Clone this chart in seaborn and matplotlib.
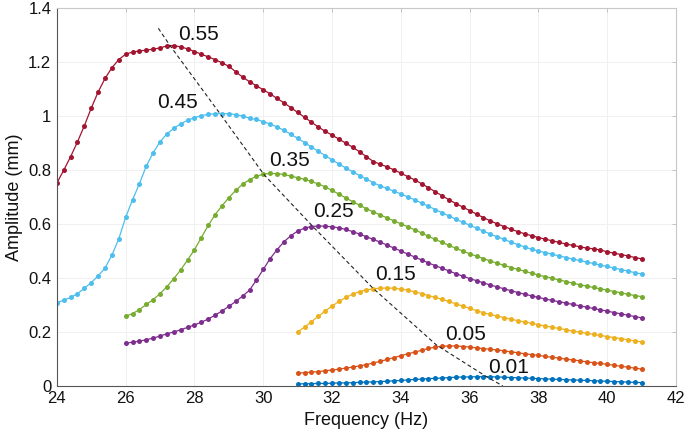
import numpy as np
import pandas as pd
import matplotlib
matplotlib.use('Agg')
import matplotlib.pyplot as plt
import seaborn as sns

# Frequency grids (Hz) - sweep step 0.2 Hz
freq_a = np.round(np.arange(24.0, 41.01, 0.2), 1)   # 0.55, 0.45
freq_b = np.round(np.arange(26.0, 41.01, 0.2), 1)   # 0.35, 0.25
freq_c = np.round(np.arange(31.0, 41.01, 0.2), 1)   # 0.15, 0.05, 0.01

amp_055 = [0.752, 0.80, 0.85, 0.905, 0.965, 1.03, 1.09, 1.14, 1.18, 1.21,
           1.23, 1.238, 1.242, 1.245, 1.249, 1.253, 1.261, 1.262, 1.257, 1.25,
           1.24, 1.23, 1.22, 1.21, 1.198, 1.185, 1.165, 1.145, 1.128, 1.113,
           1.098, 1.083, 1.066, 1.05, 1.032, 1.014, 0.996, 0.978, 0.96, 0.944,
           0.93, 0.915, 0.9, 0.885, 0.868, 0.85, 0.832, 0.822, 0.812, 0.801,
           0.789, 0.776, 0.764, 0.75, 0.735, 0.72, 0.705, 0.69, 0.676, 0.663,
           0.65, 0.637, 0.624, 0.612, 0.601, 0.591, 0.581, 0.572, 0.564, 0.557,
           0.55, 0.544, 0.538, 0.532, 0.526, 0.521, 0.516, 0.511, 0.508, 0.504,
           0.497, 0.492, 0.487, 0.482, 0.476, 0.471]

amp_045 = [0.308, 0.318, 0.328, 0.342, 0.362, 0.383, 0.408, 0.437, 0.485, 0.545,
           0.625, 0.69, 0.75, 0.815, 0.865, 0.905, 0.935, 0.955, 0.972, 0.985,
           0.995, 1.002, 1.007, 1.009, 1.01, 1.009, 1.006, 1.0, 0.993, 0.988,
           0.98, 0.971, 0.96, 0.948, 0.933, 0.918, 0.902, 0.886, 0.87, 0.854,
           0.838, 0.823, 0.808, 0.794, 0.78, 0.767, 0.753, 0.742, 0.732, 0.722,
           0.712, 0.701, 0.69, 0.678, 0.666, 0.654, 0.642, 0.63, 0.618, 0.607,
           0.596, 0.585, 0.574, 0.563, 0.553, 0.543, 0.533, 0.524, 0.515, 0.507,
           0.5, 0.494, 0.488, 0.482, 0.476, 0.47, 0.465, 0.459, 0.454, 0.448,
           0.443, 0.437, 0.431, 0.426, 0.42, 0.415]

amp_035 = [0.258, 0.268, 0.283, 0.302, 0.32, 0.342, 0.368, 0.398, 0.43, 0.467,
           0.505, 0.55, 0.595, 0.635, 0.668, 0.698, 0.725, 0.748, 0.765, 0.777,
           0.785, 0.788, 0.787, 0.784, 0.778, 0.772, 0.766, 0.758, 0.749, 0.738,
           0.725, 0.711, 0.697, 0.683, 0.67, 0.657, 0.645, 0.634, 0.623, 0.612,
           0.601, 0.59, 0.579, 0.567, 0.555, 0.543, 0.532, 0.521, 0.51, 0.5,
           0.49, 0.481, 0.472, 0.463, 0.455, 0.447, 0.439, 0.432, 0.425, 0.418,
           0.411, 0.405, 0.399, 0.393, 0.387, 0.381, 0.375, 0.37, 0.365, 0.36,
           0.355, 0.35, 0.345, 0.34, 0.335, 0.331]

amp_025 = [0.158, 0.162, 0.166, 0.171, 0.177, 0.185, 0.193, 0.2, 0.208, 0.217,
           0.226, 0.236, 0.248, 0.262, 0.278, 0.295, 0.313, 0.333, 0.355, 0.392,
           0.432, 0.472, 0.505, 0.534, 0.557, 0.574, 0.585, 0.591, 0.593, 0.592,
           0.59, 0.586, 0.58, 0.572, 0.563, 0.553, 0.543, 0.533, 0.522, 0.511,
           0.5, 0.489, 0.478, 0.467, 0.456, 0.446, 0.436, 0.426, 0.416, 0.407,
           0.398, 0.39, 0.382, 0.374, 0.367, 0.36, 0.353, 0.346, 0.34, 0.334,
           0.328, 0.322, 0.317, 0.312, 0.307, 0.302, 0.297, 0.292, 0.287, 0.282,
           0.277, 0.272, 0.267, 0.262, 0.257, 0.252]

amp_015 = [0.2, 0.218, 0.238, 0.258, 0.278, 0.296, 0.313, 0.328, 0.34, 0.35,
           0.356, 0.36, 0.362, 0.363, 0.362, 0.359, 0.355, 0.349, 0.342, 0.335,
           0.328, 0.321, 0.313, 0.304, 0.296, 0.287, 0.279, 0.271, 0.265, 0.259,
           0.253, 0.247, 0.242, 0.237, 0.232, 0.227, 0.222, 0.217, 0.213, 0.208,
           0.203, 0.199, 0.195, 0.191, 0.187, 0.183, 0.179, 0.175, 0.171, 0.167,
           0.163]

amp_005 = [0.047, 0.049, 0.051, 0.053, 0.056, 0.059, 0.062, 0.066, 0.07, 0.074,
           0.079, 0.085, 0.091, 0.098, 0.105, 0.112, 0.119, 0.125, 0.132, 0.139,
           0.144, 0.147, 0.148, 0.148, 0.146, 0.144, 0.141, 0.138, 0.136, 0.133,
           0.13, 0.126, 0.123, 0.119, 0.116, 0.113, 0.109, 0.106, 0.103, 0.099,
           0.096, 0.093, 0.089, 0.086, 0.083, 0.08, 0.076, 0.073, 0.069, 0.066,
           0.062]

amp_001 = [0.007, 0.008, 0.008, 0.009, 0.009, 0.010, 0.011, 0.011, 0.012, 0.013,
           0.014, 0.015, 0.016, 0.017, 0.019, 0.02, 0.022, 0.024, 0.025, 0.027,
           0.028, 0.029, 0.031, 0.032, 0.033, 0.033, 0.034, 0.034, 0.034, 0.033,
           0.032, 0.031, 0.03, 0.029, 0.028, 0.027, 0.026, 0.025, 0.024, 0.023,
           0.022, 0.021, 0.02, 0.019, 0.018, 0.017, 0.016, 0.015, 0.014, 0.013,
           0.012]

# peak trace (dashed)
peak_f = [26.95, 27.3, 28.74, 30.03, 31.45, 33.19, 35.03, 36.49, 36.96]
peak_a = [1.326, 1.26, 1.01, 0.782, 0.59, 0.362, 0.152, 0.034, 0.0]

labels = ['0.55', '0.45', '0.35', '0.25', '0.15', '0.05', '0.01']
label_f = [28.13, 27.52, 30.77, 32.05, 33.83, 35.89, 37.14]
label_a = [1.303, 1.051, 0.836, 0.647, 0.413, 0.191, 0.069]

series = [(freq_a, amp_055, '#A2142F'),
          (freq_a, amp_045, '#4DBEEE'),
          (freq_b, amp_035, '#77AC30'),
          (freq_b, amp_025, '#7E2F8E'),
          (freq_c, amp_015, '#EDB120'),
          (freq_c, amp_005, '#D95319'),
          (freq_c, amp_001, '#0072BD')]

sns.set_style('white')
plt.rcParams['font.family'] = ['Liberation Sans', 'DejaVu Sans']

fig = plt.figure(figsize=(6.85, 4.4), dpi=100)
ax = fig.add_axes([0.083, 0.123, 0.904, 0.858])

for f, a, c in series:
    df = pd.DataFrame({'f': f, 'a': a})
    sns.lineplot(data=df, x='f', y='a', color=c, linewidth=0.9, marker='o',
                 markersize=3.6, markeredgewidth=0, ax=ax)

ax.plot(peak_f, peak_a, color='#222222', linestyle=(0, (3.5, 2.5)), linewidth=0.8)

for t, x, y in zip(labels, label_f, label_a):
    ax.text(x, y, t, fontsize=15, ha='center', va='center', color='#111111')

ax.set_xlim(24, 42)
ax.set_ylim(0, 1.4)
ax.set_xticks(np.arange(24, 43, 2))
ax.set_yticks([0, 0.2, 0.4, 0.6, 0.8, 1.0, 1.2, 1.4])
ax.set_yticklabels(['0', '0.2', '0.4', '0.6', '0.8', '1', '1.2', '1.4'])
ax.grid(True, color='#f0f0f0', linewidth=0.7)
ax.tick_params(axis='both', direction='in', length=3, width=0.6, color='#bbbbbb',
               labelsize=12, labelcolor='#111111', pad=4, right=True, top=True)
for s in ['top', 'right']:
    ax.spines[s].set_color('#c8c8c8')
    ax.spines[s].set_linewidth(0.8)
for s in ['left', 'bottom']:
    ax.spines[s].set_color('#555555')
    ax.spines[s].set_linewidth(0.8)

ax.set_xlabel('Frequency (Hz)', fontsize=13, color='#111111', labelpad=4)
ax.set_ylabel('Amplitude (mm)', fontsize=13, color='#111111', labelpad=4)

fig.savefig('out.png', dpi=100)
